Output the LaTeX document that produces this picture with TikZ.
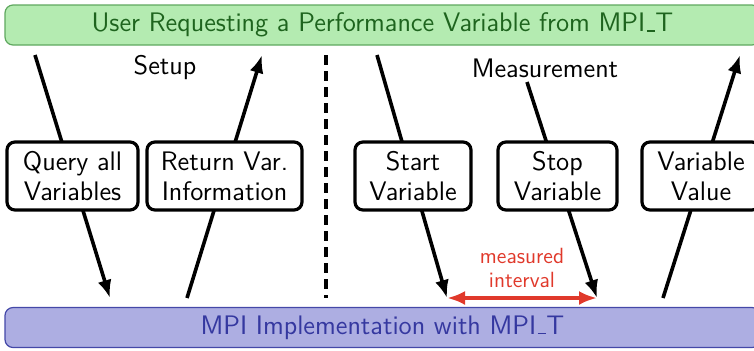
\documentclass[tikz,border=0pt]{standalone}
\usetikzlibrary{arrows.meta}
\definecolor{barfillG}{HTML}{B4EBB1}
\definecolor{barlineG}{HTML}{5FA85F}
\definecolor{bartextG}{HTML}{1E641E}
\definecolor{barfillB}{HTML}{ADAEE2}
\definecolor{barlineB}{HTML}{4448A8}
\definecolor{bartextB}{HTML}{3538A0}
\definecolor{measred}{HTML}{E0392B}
\newcommand\usc{\leavevmode\kern.06em\vbox{\hrule width.3em height .06em}\kern.02em}
\begin{document}
\begin{tikzpicture}[x=0.5pt,y=-0.5pt,
  font=\sffamily\fontsize{13.4}{15}\selectfont,
  bar/.style={rounded corners=4pt, line width=0.6pt, minimum width=377.5pt, minimum height=20pt, inner sep=0pt},
  stepbox/.style={draw, fill=white, rounded corners=4pt, line width=1.6pt, align=center, minimum height=34pt, inner sep=1pt},
  flow/.style={line width=1.8pt, -{Latex[length=9pt,width=7pt]}}]
\useasboundingbox (0,0) rectangle (754,350);
\clip (0,0) rectangle (754,350);
% bars
\node[bar, draw=barlineG, fill=barfillG, text=bartextG] (user) at (382.5,25) {User Requesting a Performance Variable from MPI\usc T};
\node[bar, draw=barlineB, fill=barfillB, text=bartextB] (mpi) at (382.5,327.5) {MPI Implementation with MPI\usc T};
% connector end points
\coordinate (a1s) at (35,55);   \coordinate (a1e) at (110,298);
\coordinate (a2s) at (187,298); \coordinate (a2e) at (262,55);
\coordinate (a3s) at (377,55);  \coordinate (a3e) at (447,298);
\coordinate (a4s) at (527,82);  \coordinate (a4e) at (597,298);
\coordinate (a5s) at (663,298); \coordinate (a5e) at (740,55);
\coordinate (d1) at (326,55);   \coordinate (d2) at (326,298);
% arrows
\draw[flow] (a1s) -- (a1e);
\draw[flow] (a2s) -- (a2e);
\draw[flow] (a3s) -- (a3e);
\draw[flow] (a4s) -- (a4e);
\draw[flow] (a5s) -- (a5e);
\draw[line width=1.8pt, dash pattern=on 5pt off 3pt] (d1) -- (d2);
% boxes
\node[stepbox, minimum width=65.5pt] (query) at (72.5,176) {Query all\\Variables};
\node[stepbox, minimum width=77.5pt] (ret) at (224.5,176) {Return Var.\\Information};
\node[stepbox, minimum width=58pt] (start) at (413,176) {Start\\Variable};
\node[stepbox, minimum width=59.5pt] (stop) at (557.5,176) {Stop\\Variable};
\node[stepbox, minimum width=59pt] (value) at (701,176) {Variable\\Value};
% labels
\node (setup) at (165,68) {Setup};
\node (meas) at (545,68) {Measurement};
% measured interval
\draw[measred, line width=1.8pt, {Latex[length=9pt,width=7pt]}-{Latex[length=9pt,width=7pt]}] (a3e) -- (a4e);
\node[text=measred, align=center, font=\sffamily\fontsize{11}{12}\selectfont] (mi) at (522,268) {measured\\interval};
\end{tikzpicture}
\end{document}
